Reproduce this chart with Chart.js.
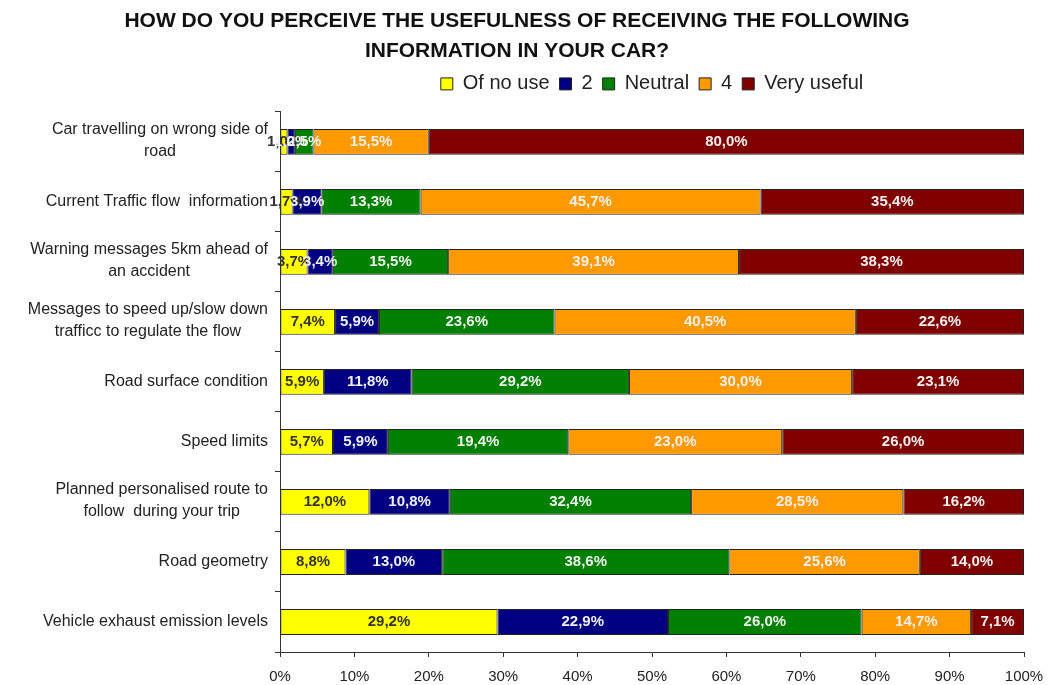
<!DOCTYPE html>
<html>
<head>
<meta charset="utf-8">
<script src="https://cdn.jsdelivr.net/npm/chart.js@4.4.0/dist/chart.umd.min.js"></script>
<style>
  body { margin: 0; background: #fff; }
  #wrap { width: 1060px; height: 685px; position: relative; }
</style>
</head>
<body>
<div id="wrap"><canvas id="myChart"></canvas></div>
<script>
const categories = [
    ['Car travelling on wrong side of', 'road'],
    'Current Traffic flow  information',
    ['Warning messages 5km ahead of', 'an accident'],
    ['Messages to speed up/slow down', 'trafficc to regulate the flow'],
    'Road surface condition',
    'Speed limits',
    ['Planned personalised route to', 'follow  during your trip'],
    'Road geometry',
    'Vehicle exhaust emission levels'
];
const seriesNames = ['Of no use', '2', 'Neutral', '4', 'Very useful'];
const ofNoUse    = [1.0, 1.7, 3.7, 7.4, 5.9, 5.7, 12.0, 8.8, 29.2];
const two        = [1.0, 3.9, 3.4, 5.9, 11.8, 5.9, 10.8, 13.0, 22.9];
const neutral    = [2.5, 13.3, 15.5, 23.6, 29.2, 19.4, 32.4, 38.6, 26.0];
const four       = [15.5, 45.7, 39.1, 40.5, 30.0, 23.0, 28.5, 25.6, 14.7];
const veryUseful = [80.0, 35.4, 38.3, 22.6, 23.1, 26.0, 16.2, 14.0, 7.1];
const xTicks = [0, 10, 20, 30, 40, 50, 60, 70, 80, 90, 100];
const colors = ['#FFFF00', '#000080', '#008000', '#FF9900', '#800000'];

const rawSeries = [ofNoUse, two, neutral, four, veryUseful];
// 100% stacked: each bar is scaled to its row total, labels keep the raw value
const rowTotals = categories.map((c, i) => rawSeries.reduce((s, arr) => s + arr[i], 0));

Chart.defaults.font.family = '"Liberation Sans", Arial, sans-serif';

const yLabels = {
    id: 'yLabels',
    afterDraw(chart) {
        const ctx = chart.ctx;
        const y = chart.scales.y;
        ctx.save();
        ctx.font = '16px "Liberation Sans", Arial, sans-serif';
        ctx.fillStyle = '#222';
        ctx.textAlign = 'center';
        ctx.textBaseline = 'middle';
        categories.forEach((lab, i) => {
            const lines = Array.isArray(lab) ? lab : [lab];
            const w = Math.max(...lines.map(l => ctx.measureText(l).width));
            const cx = y.right - 12 - w / 2;
            const cy = y.getPixelForValue(i) - (lines.length > 1 ? 1 : 0);
            lines.forEach((l, j) => ctx.fillText(l, cx, cy + (j - (lines.length - 1) / 2) * 22));
        });
        ctx.restore();
    }
};

const valueLabels = {
    id: 'valueLabels',
    afterDatasetsDraw(chart) {
        const ctx = chart.ctx;
        ctx.save();
        ctx.font = 'bold 15px "Liberation Sans", Arial, sans-serif';
        ctx.textAlign = 'center';
        ctx.textBaseline = 'middle';
        chart.data.datasets.forEach((ds, di) => {
            chart.getDatasetMeta(di).data.forEach((bar, i) => {
                ctx.fillStyle = di === 0 ? '#333' : '#f0f0f0';
                const txt = rawSeries[di][i].toFixed(1).replace('.', ',') + '%';
                ctx.fillText(txt, (bar.x + bar.base) / 2, bar.y);
            });
        });
        ctx.restore();
    }
};

const legendGap = {
    id: 'legendGap',
    beforeInit(chart) {
        const fit = chart.legend.fit;
        chart.legend.fit = function () {
            fit.bind(chart.legend)();
            this.height += 8;
        };
    }
};

const ctx = document.getElementById('myChart');

const myChart = new Chart(ctx, {
    type: 'bar',
    data: {
        labels: categories,
        datasets: seriesNames.map((name, k) => ({
            label: name,
            data: rawSeries[k].map((v, i) => v / rowTotals[i] * 100),
            backgroundColor: colors[k],
            borderColor: '#222',
            borderWidth: 1,
            borderSkipped: false,
            barPercentage: 0.43,
            categoryPercentage: 1
        }))
    },
    options: {
        indexAxis: 'y',
        responsive: true,
        maintainAspectRatio: false,
        animation: false,
        layout: { padding: { left: 10, right: 36, top: 0, bottom: 0 } },
        plugins: {
            title: {
                display: true,
                text: ['HOW DO YOU PERCEIVE THE USEFULNESS OF RECEIVING THE FOLLOWING',
                       'INFORMATION IN YOUR CAR?'],
                font: { size: 21, weight: 'bold', lineHeight: 1.45 },
                color: '#111',
                padding: { top: 6, bottom: -3 }
            },
            legend: {
                position: 'top',
                fullSize: false,
                labels: {
                    boxWidth: 12,
                    boxHeight: 12,
                    font: { size: 20 },
                    color: '#222',
                    padding: 10
                }
            },
            tooltip: { enabled: false }
        },
        scales: {
            x: {
                stacked: true,
                min: 0,
                max: 100,
                afterBuildTicks(s) { s.ticks = xTicks.map(v => ({ value: v })); },
                ticks: {
                    callback: v => v + '%',
                    font: { size: 15 },
                    color: '#222',
                    padding: 11,
                    maxRotation: 0
                },
                grid: { drawOnChartArea: false, tickLength: 5, color: '#333' },
                border: { color: '#333' },
                afterFit(s) { s.height = 33; }
            },
            y: {
                stacked: true,
                ticks: { display: false },
                grid: { drawOnChartArea: false, tickLength: 5, color: '#333', offset: true },
                border: { color: '#333' },
                afterFit(s) { s.width = 270; }
            }
        }
    },
    plugins: [yLabels, valueLabels, legendGap]
});
</script>
</body>
</html>
